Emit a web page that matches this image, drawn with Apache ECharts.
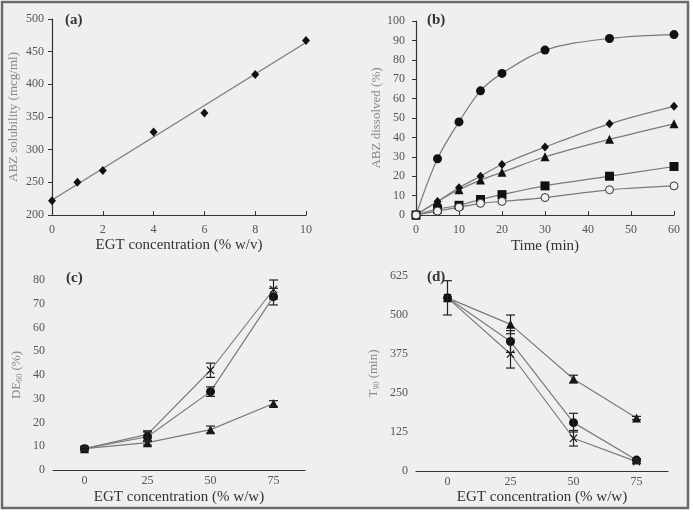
<!DOCTYPE html>
<html><head><meta charset="utf-8">
<script src="https://cdn.jsdelivr.net/npm/echarts@6/dist/echarts.min.js"></script>
<style>html,body{margin:0;padding:0;background:#fff}#c{width:693px;height:512px}</style>
</head><body><div id="c"></div>
<script>
// Panel (a)
const aX = [0, 1, 2, 4, 6, 8, 10];
const aY = [222, 250, 268, 327, 356, 415, 467];
const aFit = [[0, 223], [10, 464]];
// Panel (b)
const bTime = [0, 5, 10, 15, 20, 30, 45, 60];
const bCircle = [0, 29, 48, 64, 73, 85, 91, 93];
const bDiamond = [0, 7, 14, 20, 26, 35, 47, 56];
const bTriangle = [0, 7, 13, 18, 22, 30, 39, 47];
const bSquare = [0, 3, 5, 8, 10.5, 15, 20, 25];
const bOpen = [0, 2, 4, 6, 7, 9, 13, 15];
// Panels (c),(d)
const cdCats = ['0', '25', '50', '75'];
const cCross = [9, 15, 42, 76];
const cCrossErr = [0.8, 1.5, 3, 4];
const cCircle = [9, 14, 33, 73];
const cCircleErr = [0.8, 2, 2, 3.5];
const cTri = [9, 11.5, 17, 28];
const cTriErr = [0.5, 1, 1.5, 1.2];
const dTri = [555, 470, 295, 170];
const dTriErr = [0, 30, 12, 5];
const dCircle = [555, 415, 155, 35];
const dCircleErr = [55, 35, 30, 5];
const dCross = [555, 375, 105, 30];
const dCrossErr = [0, 45, 25, 6];

const FONT = 'Liberation Serif';
const lineCol = '#7a7a7a';
const mk = '#111';
const crossPath = 'path://M0,1L1,0L5,4L9,0L10,1L6,5L10,9L9,10L5,6L1,10L0,9L4,5Z';

function pairs(xs, ys) { return xs.map((x, i) => [x, ys[i]]); }

const lbl = (m) => ({ color: '#555', fontFamily: FONT, fontSize: 12, margin: m });

function axisCommon(extra) {
  return Object.assign({
    axisLine: { lineStyle: { color: '#333', width: 1.2 } },
    axisTick: { lineStyle: { color: '#333' }, length: 4 },
    axisLabel: lbl(8),
    splitLine: { show: false },
    nameTextStyle: { fontFamily: FONT, fontSize: 15, color: '#333' },
    nameLocation: 'middle'
  }, extra);
}

function errSeries(idx, vals, errs) {
  return {
    type: 'custom', xAxisIndex: idx, yAxisIndex: idx, z: 5,
    data: vals.map((v, i) => [i, v, errs[i]]),
    renderItem: function (params, api) {
      const e = api.value(2);
      if (!e) return null;
      const x = api.value(0), y = api.value(1);
      const hi = api.coord([x, y + e]);
      const lo = api.coord([x, y - e]);
      const w = 4.5;
      const st = { stroke: '#222', lineWidth: 1.2 };
      return { type: 'group', children: [
        { type: 'line', shape: { x1: hi[0], y1: hi[1], x2: lo[0], y2: lo[1] }, style: st },
        { type: 'line', shape: { x1: hi[0] - w, y1: hi[1], x2: hi[0] + w, y2: hi[1] }, style: st },
        { type: 'line', shape: { x1: lo[0] - w, y1: lo[1], x2: lo[0] + w, y2: lo[1] }, style: st }
      ]};
    }
  };
}

function lineS(idx, data, symbol, size, opts) {
  return Object.assign({
    type: 'line', xAxisIndex: idx, yAxisIndex: idx, data: data,
    symbol: symbol, symbolSize: size, showSymbol: true,
    lineStyle: { color: lineCol, width: 1.2 },
    itemStyle: { color: mk, borderColor: mk, borderWidth: 0, opacity: 1 },
    animation: false, z: 3
  }, opts || {});
}

const chart = echarts.init(document.getElementById('c'), null, { renderer: 'canvas' });
const titleStyle = { fontFamily: FONT, fontSize: 15, fontWeight: 'bold', color: '#333' };
const richY = {
  a: { fontFamily: FONT, fontSize: 13, color: '#888' },
  s: { fontFamily: FONT, fontSize: 8, color: '#888', verticalAlign: 'bottom', padding: [6, 0, 0, 0] }
};
const inTick = { inside: true, length: 4, lineStyle: { color: '#333' } };

chart.setOption({
  animation: false,
  backgroundColor: '#fff',
  graphic: [
    { type: 'rect', z: -10, silent: true, shape: { x: 2, y: 2, width: 686, height: 506 },
      style: { fill: '#efefef', stroke: '#6a6a6a', lineWidth: 2.5 } }
  ],
  title: [
    { text: '(a)', left: 60, top: 8, textStyle: titleStyle },
    { text: '(b)', left: 422, top: 8, textStyle: titleStyle },
    { text: '(c)', left: 61, top: 266, textStyle: titleStyle },
    { text: '(d)', left: 422, top: 265, textStyle: titleStyle }
  ],
  grid: [
    { left: 52, top: 19, width: 254, height: 196 },
    { left: 416, top: 21, width: 258, height: 194 },
    { left: 53, top: 280, width: 252, height: 190 },
    { left: 416, top: 276, width: 252, height: 195 }
  ],
  xAxis: [
    axisCommon({ gridIndex: 0, type: 'value', min: 0, max: 10, interval: 2,
      name: 'EGT concentration (% w/v)', nameGap: 23, axisTick: inTick, axisLabel: lbl(9) }),
    axisCommon({ gridIndex: 1, type: 'value', min: 0, max: 60, interval: 10,
      name: 'Time (min)', nameGap: 24, axisTick: inTick, axisLabel: lbl(9) }),
    axisCommon({ gridIndex: 2, type: 'category', data: cdCats, boundaryGap: true,
      name: 'EGT concentration (% w/w)', nameGap: 20, axisTick: inTick, axisLabel: lbl(5) }),
    axisCommon({ gridIndex: 3, type: 'category', data: cdCats, boundaryGap: true,
      name: 'EGT concentration (% w/w)', nameGap: 19, axisTick: inTick, axisLabel: lbl(5) })
  ],
  yAxis: [
    axisCommon({ gridIndex: 0, type: 'value', min: 200, max: 500, interval: 50,
      name: 'ABZ solubility (mcg/ml)', nameGap: 32, nameTextStyle: { fontFamily: FONT, fontSize: 13, color: '#888' },
      axisLabel: lbl(8) }),
    axisCommon({ gridIndex: 1, type: 'value', min: 0, max: 100, interval: 10,
      name: 'ABZ dissolved (%)', nameGap: 24, nameTextStyle: { fontFamily: FONT, fontSize: 13, color: '#888' },
      axisLabel: lbl(11) }),
    axisCommon({ gridIndex: 2, type: 'value', min: 0, max: 80, interval: 10,
      name: '{a|DE}{s|60}{a| (%)}', nameGap: 29, nameTextStyle: { rich: richY },
      axisLabel: lbl(8) }),
    axisCommon({ gridIndex: 3, type: 'value', min: 0, max: 625, interval: 125,
      name: '{a|T}{s|90}{a| (min)}', nameGap: 35, nameTextStyle: { rich: richY },
      axisLabel: lbl(8) })
  ],
  series: [
    // (a)
    { type: 'line', xAxisIndex: 0, yAxisIndex: 0, data: aFit, symbol: 'none',
      lineStyle: { color: lineCol, width: 1.2 }, z: 2 },
    { type: 'scatter', xAxisIndex: 0, yAxisIndex: 0, data: pairs(aX, aY), symbol: 'diamond',
      symbolSize: [8, 9], itemStyle: { color: mk, opacity: 1 }, z: 4 },
    // (b)
    lineS(1, pairs(bTime, bCircle), 'circle', 9, { smooth: 0.35 }),
    lineS(1, pairs(bTime, bDiamond), 'diamond', [8, 9], { smooth: 0.35 }),
    lineS(1, pairs(bTime, bTriangle), 'triangle', 9, { smooth: 0.35 }),
    lineS(1, pairs(bTime, bSquare), 'rect', 9, { smooth: 0.35 }),
    lineS(1, pairs(bTime, bOpen), 'circle', 8, { smooth: 0.35,
      itemStyle: { color: '#efefef', borderColor: '#333', borderWidth: 1, opacity: 1 } }),
    // (c)
    lineS(2, cCross, crossPath, 8),
    lineS(2, cCircle, 'circle', 9),
    lineS(2, cTri, 'triangle', 9),
    errSeries(2, cCross, cCrossErr),
    errSeries(2, cCircle, cCircleErr),
    errSeries(2, cTri, cTriErr),
    // (d)
    lineS(3, dTri, 'triangle', 9),
    lineS(3, dCircle, 'circle', 9),
    lineS(3, dCross, crossPath, 8),
    errSeries(3, dTri, dTriErr),
    errSeries(3, dCircle, dCircleErr),
    errSeries(3, dCross, dCrossErr)
  ]
});
</script>
</body></html>
